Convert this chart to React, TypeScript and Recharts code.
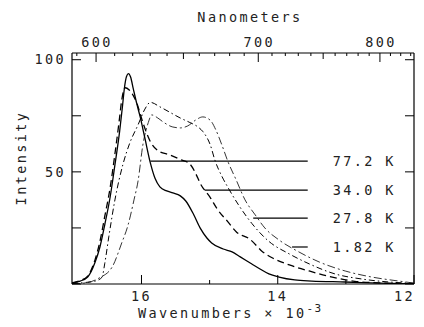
import React from 'react';
import { LineChart, Line, XAxis, YAxis, ReferenceLine } from 'recharts';

const FONT = '"DejaVu Sans Mono", "Liberation Mono", monospace';
const TEXT_STYLE = { fontFamily: FONT, fontSize: 13.5, letterSpacing: 2.4, fill: '#222' };

// Emission spectra: wavenumber (10^3 cm^-1) and relative intensity
const solidWavenumber = [17.02, 16.9, 16.79, 16.68, 16.61, 16.54, 16.46, 16.39, 16.32, 16.28, 16.25, 16.22, 16.19, 16.16, 16.12, 16.07, 16.02, 15.95, 15.87, 15.8, 15.73, 15.63, 15.54, 15.43, 15.35, 15.24, 15.14, 15.04, 14.97, 14.8, 14.67, 14.55, 14.38, 14.26, 14.13, 13.98, 13.75, 13.5, 13.01, 12.51, 12.0];
const solidIntensity = [0.4, 1.3, 3.1, 9.8, 16.5, 26.3, 38.8, 53.1, 68.3, 79, 87.5, 92.5, 93.8, 92.3, 87, 80.5, 74.6, 65, 54, 47, 43.3, 41.5, 40.6, 39.3, 37, 31.3, 25, 20.5, 18.3, 15.6, 14.3, 12.1, 8.9, 6.7, 4.5, 3.1, 1.8, 1.3, 0.9, 0.4, 0];

const dashedWavenumber = [17.02, 16.9, 16.79, 16.68, 16.61, 16.54, 16.46, 16.39, 16.33, 16.29, 16.24, 16.18, 16.12, 16.07, 15.98, 15.87, 15.76, 15.58, 15.43, 15.29, 15.2, 15.14, 14.99, 14.89, 14.74, 14.6, 14.41, 14.22, 14.07, 13.83, 13.54, 13.2, 12.87, 12.51, 12.0];
const dashedIntensity = [0.5, 1.5, 3.5, 11, 19, 30, 43, 58, 72, 82, 87.5, 86.5, 84, 80.8, 72, 63.5, 59.5, 57.5, 55.5, 53.5, 49, 45, 38.5, 33.5, 28, 23, 20, 14.3, 11.5, 8.5, 5.8, 3.1, 1.2, 0.5, 0];

const dashDotWavenumber = [17.02, 16.85, 16.68, 16.58, 16.54, 16.48, 16.39, 16.27, 16.17, 16.05, 15.95, 15.87, 15.73, 15.58, 15.43, 15.29, 15.17, 15.1, 14.99, 14.92, 14.82, 14.73, 14.57, 14.38, 14.13, 13.83, 13.54, 13.16, 12.76, 12.37, 12.0];
const dashDotIntensity = [0.2, 0.6, 1.3, 3, 9, 21, 37.5, 53.6, 63, 71, 78, 81, 79, 76.5, 74, 72, 70, 68, 62, 55, 48, 43, 35, 27, 19, 13.4, 9, 4.5, 2.2, 0.9, 0.3];

const longDashWavenumber = [17.02, 16.85, 16.62, 16.43, 16.29, 16.2, 16.11, 16.05, 15.98, 15.9, 15.85, 15.76, 15.67, 15.54, 15.43, 15.32, 15.21, 15.1, 14.99, 14.91, 14.82, 14.73, 14.61, 14.48, 14.33, 14.19, 13.98, 13.69, 13.39, 13.01, 12.62, 12.22, 12.0];
const longDashIntensity = [0.1, 0.4, 2.7, 7.6, 18.3, 26, 37.5, 46, 62, 72, 75.4, 74, 72, 70, 69.6, 70.5, 73, 74.5, 73, 68.8, 62, 54.5, 46.4, 37.5, 30.8, 25, 19.6, 14.3, 9.8, 5.8, 3.1, 1.3, 0.4];

// Temperature key: label, intensity level, start wavenumber of its rule
const keyLabels = ['77.2 K', '34.0 K', '27.8 K', '1.82 K'];
const keyLevels = [54.8, 41.9, 29.4, 16.5];
const keyStarts = [15.87, 15.07, 14.36, 13.79];
const keyEnd = 13.56;

// Axis ticks
const wavenumberTicks = [16, 15, 14, 13, 12];
const intensityTicks = [0, 25, 50, 75, 100];
const nanometerTicks = Array.from({ length: 25 }, (_, i) => 590 + i * 10);

const toPoints = (w: number[], v: number[]) => w.map((x, i) => ({ w: x, v: v[i] }));

const series = [
  { key: 'k182', points: toPoints(solidWavenumber, solidIntensity), dash: undefined, width: 1.3 },
  { key: 'k278', points: toPoints(dashedWavenumber, dashedIntensity), dash: '7 4', width: 1.3 },
  { key: 'k340', points: toPoints(dashDotWavenumber, dashDotIntensity), dash: '6 3 1.5 3', width: 1 },
  { key: 'k772', points: toPoints(longDashWavenumber, longDashIntensity), dash: '8 3 2 3', width: 0.8 },
];

const W_MIN = 12;
const W_MAX = 17.02;
const Y_MAX = 103;

const BottomTick = (props: any) => {
  const { x, y, payload } = props;
  const major = payload.value % 2 === 0;
  const atEdge = payload.value === W_MIN;
  return (
    <g>
      <line x1={x} y1={y} x2={x} y2={y - (major ? 9 : 4)} stroke="#000" strokeWidth={1} />
      {major && (
        <text x={atEdge ? x + 1 : x} y={y + 17} textAnchor={atEdge ? 'end' : 'middle'} style={TEXT_STYLE}>
          {payload.value}
        </text>
      )}
    </g>
  );
};

const TopTick = (props: any) => {
  const { x, y, payload } = props;
  const nm = Math.round(1e4 / payload.value);
  const len = nm % 100 === 0 ? 9 : nm % 50 === 0 ? 6 : 3;
  return (
    <g>
      <line x1={x} y1={y} x2={x} y2={y + len} stroke="#000" strokeWidth={1} />
      {nm % 100 === 0 && (
        <text x={x + 1} y={y - 6} textAnchor="middle" style={TEXT_STYLE}>
          {nm}
        </text>
      )}
    </g>
  );
};

const LeftTick = (props: any) => {
  const { x, y, payload } = props;
  const labelled = payload.value > 0 && payload.value % 50 === 0;
  return (
    <g>
      <line x1={x} y1={y} x2={x + 9} y2={y} stroke="#000" strokeWidth={1} />
      {labelled && (
        <text x={x - 6} y={y} dy="0.35em" textAnchor="end" style={TEXT_STYLE}>
          {payload.value}
        </text>
      )}
    </g>
  );
};

const RightTick = (props: any) => {
  const { x, y } = props;
  return <line x1={x} y1={y} x2={x - 9} y2={y} stroke="#000" strokeWidth={1} />;
};

const TopTitle = () => (
  <text x={242} y={14} textAnchor="middle" style={TEXT_STYLE}>
    Nanometers
  </text>
);

const BottomTitle = () => (
  <text x={130} y={310} textAnchor="start" style={TEXT_STYLE}>
    Wavenumbers × 10
    <tspan dy={-6} style={{ fontSize: 11, letterSpacing: 1.5 }}>-3</tspan>
  </text>
);

const LeftTitle = () => (
  <text x={13} y={150} transform="rotate(-90, 13, 150)" textAnchor="middle" dominantBaseline="central" style={TEXT_STYLE}>
    Intensity
  </text>
);

const keyLabel = (text: string) => (props: any) => {
  const vb = props.viewBox || {};
  const xEnd = Math.max(vb.x, vb.x + (vb.width || 0));
  return (
    <text x={xEnd + 25} y={vb.y} dy="0.4em" textAnchor="start" style={TEXT_STYLE}>
      {text}
    </text>
  );
};

const axisLine = { stroke: '#000', strokeWidth: 1.2 };

export default function App() {
  return (
    <LineChart width={416} height={319} margin={{ top: 0, right: 0, bottom: 0, left: 0 }}>
      <XAxis
        xAxisId="bottom"
        orientation="bottom"
        type="number"
        dataKey="w"
        domain={[W_MIN, W_MAX]}
        reversed
        allowDataOverflow
        ticks={wavenumberTicks}
        interval={0}
        height={43}
        tickSize={0}
        tickMargin={0}
        tickLine={false}
        axisLine={axisLine}
        tick={BottomTick}
        label={<BottomTitle />}
      />
      <XAxis
        xAxisId="top"
        orientation="top"
        type="number"
        dataKey="w"
        domain={[W_MIN, W_MAX]}
        reversed
        allowDataOverflow
        ticks={nanometerTicks.map((nm) => 1e4 / nm)}
        interval={0}
        height={45}
        tickSize={0}
        tickMargin={0}
        tickLine={false}
        axisLine={axisLine}
        tick={TopTick}
        label={<TopTitle />}
      />
      <YAxis
        yAxisId="left"
        orientation="left"
        type="number"
        domain={[0, Y_MAX]}
        allowDataOverflow
        ticks={intensityTicks}
        interval={0}
        width={64}
        tickSize={0}
        tickMargin={0}
        tickLine={false}
        axisLine={axisLine}
        tick={LeftTick}
        label={<LeftTitle />}
      />
      <YAxis
        yAxisId="right"
        orientation="right"
        type="number"
        domain={[0, Y_MAX]}
        allowDataOverflow
        ticks={intensityTicks}
        interval={0}
        width={10}
        tickSize={0}
        tickMargin={0}
        tickLine={false}
        axisLine={axisLine}
        tick={RightTick}
      />
      {series.map((s) => (
        <Line
          key={s.key}
          data={s.points}
          dataKey="v"
          xAxisId="bottom"
          yAxisId="left"
          type="monotone"
          dot={false}
          activeDot={false}
          stroke="#000"
          strokeWidth={s.width}
          strokeDasharray={s.dash}
          isAnimationActive={false}
        />
      ))}
      {keyLabels.map((label, i) => (
        <ReferenceLine
          key={label}
          xAxisId="bottom"
          yAxisId="left"
          segment={[
            { x: keyStarts[i], y: keyLevels[i] },
            { x: keyEnd, y: keyLevels[i] },
          ]}
          stroke="#000"
          strokeWidth={1.2}
          label={keyLabel(label)}
        />
      ))}
    </LineChart>
  );
}
